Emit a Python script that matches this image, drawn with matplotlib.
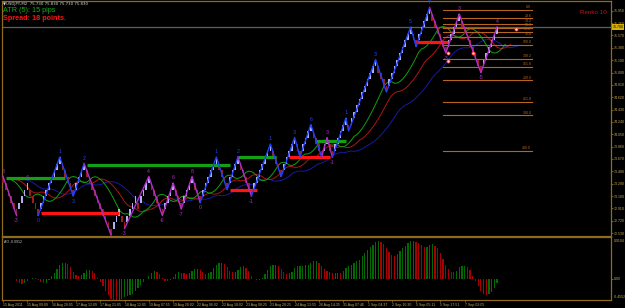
import matplotlib
matplotlib.use("Agg")
import matplotlib.pyplot as plt
import numpy as np
import pandas as pd

# renko bricks: bricks per leg, legs alternate down / up, first leg goes down
brick_runs = [6, 4, 4, 8, 5, 4, 10, 3, 2, 4, 1, 4, 5, 4, 3, 4, 3, 6, 4, 4,
              5, 7, 4, 5, 2, 4, 4, 2, 2, 5, 1, 10, 4, 9, 2, 5, 6, 5, 8, 6]
base_price = 72.50
start_level = 9
brick_size = 0.10

# zigzag paths, given as pivot numbers (pivot k = end of leg k-1, pivot 0 = start)
magenta_paths = [[0, 1], [6, 7], [9, 12, 13, 14, 15, 16, 17], [20, 21], [27, 28, 29], [36, 37, 38, 39, 40]]
blue_paths = [[3, 4, 5, 6], [17, 18, 19, 20], [21, 22, 23, 24, 25, 26, 27], [29, 30, 31, 32, 33, 34, 35, 36]]
magenta_labels = {0: "3", 1: "-3", 2: "4", 7: "-4", 9: "-3", 12: "4", 13: "-6", 14: "6", 15: "-7",
                  16: "8", 17: "0", 21: "-1", 28: "3", 29: "-1", 37: "-3", 38: "3", 39: "-5", 40: "4"}
blue_labels = {3: "0", 4: "1", 5: "3", 6: "2", 18: "1", 20: "2", 22: "1", 24: "3", 26: "6",
               30: "1", 32: "3", 34: "5", 36: "7"}

# support / resistance segments: (start brick, end brick, price)
green_levels = [(1, 23, 73.38), (31, 84, 73.58), (87, 101, 73.70), (116, 127, 73.95)]
red_levels = [(14, 43, 72.84), (84, 94, 73.20), (106, 121, 73.70), (153, 165, 75.47)]

# fibonacci grid
fib_ratios = [0.0, 23.6, 38.2, 50.0, 61.8, 76.4, 100.0, 138.2, 161.8, 200.0, 261.8, 300.0, 400.0]
fib_top, fib_bottom = 75.96, 75.42
fib_span = (163, 196)

fractal_x = [165, 165, 174, 190]
fractal_y = [75.30, 75.18, 75.30, 75.67]

date_labels = ["15 Aug 2011", "15 Aug 09:09", "16 Aug 20:05", "17 Aug 12:09", "17 Aug 21:05",
               "18 Aug 12:05", "19 Aug 07:55", "19 Aug 20:02", "22 Aug 06:02", "22 Aug 18:02",
               "23 Aug 08:25", "23 Aug 20:25", "24 Aug 13:55", "26 Aug 14:35", "31 Aug 07:46",
               "1 Sep 04:37", "2 Sep 10:30", "5 Sep 05:11", "5 Sep 17:51", "7 Sep 02:05"]
price_ticks = [75.95 - 0.19 * k for k in range(19)]

# ---- build bricks
opens, closes = [], []
prev_o = prev_c = None
for leg, n in enumerate(brick_runs):
    d = -1 if leg % 2 == 0 else 1
    for j in range(n):
        if prev_o is None:
            o = start_level
        elif j == 0:
            o = prev_o
        else:
            o = prev_c
        c = o + d
        opens.append(o)
        closes.append(c)
        prev_o, prev_c = o, c
opens = base_price + brick_size * np.array(opens)
closes = base_price + brick_size * np.array(closes)
idx = np.arange(len(opens))

piv_x = [0]
piv_y = [opens[0]]
pos = 0
for n in brick_runs:
    pos += n
    piv_x.append(pos - 1)
    piv_y.append(closes[pos - 1])

median = pd.Series((opens + closes) / 2)
jaw = median.ewm(alpha=1 / 13, adjust=False).mean()
teeth = median.ewm(alpha=1 / 8, adjust=False).mean()
lips = median.ewm(alpha=1 / 5, adjust=False).mean()
ao = median.rolling(5, min_periods=1).mean() - median.rolling(34, min_periods=1).mean()

# ---- figure
W, H = 625, 308
frame = "#8E6C1C"
txt = "#C8AA5A"
small = dict(family="Liberation Sans", fontsize=2.5)
fig = plt.figure(figsize=(W / 100, H / 100), dpi=100, facecolor="black")


def box(x0, y0, x1, y1):
    return [x0 / W, 1 - y1 / H, (x1 - x0) / W, (y1 - y0) / H]


ax = fig.add_axes(box(2, 1, 611, 236))
ao_ax = fig.add_axes(box(2, 237, 611, 300))
xlim = (-0.4, 225.2)
for a in (ax, ao_ax):
    a.set_facecolor("black")
    a.set_xlim(*xlim)
    for s in a.spines.values():
        s.set_color(frame)
        s.set_linewidth(0.9)
    a.tick_params(colors=frame, labelcolor=txt, labelsize=2.5, length=1.5, width=0.6, pad=0.6)
    a.yaxis.tick_right()

ax.set_ylim(72.485, 76.10)
ax.set_yticks(price_ticks)
ax.set_yticklabels([f"{p:.3f}" for p in price_ticks], family="Liberation Sans")
ax.set_xticks([])

# current price line
last = closes[-1]
ax.axhline(last, color="#56606C", lw=0.9, zorder=1)

# bricks
up = closes > opens
ax.bar(idx[up], brick_size, bottom=opens[up], width=0.6, color="#B0B0F0", zorder=3)
ax.bar(idx[~up], brick_size, bottom=closes[~up], width=0.6, color="#9A1F1F", zorder=3)

# alligator
ax.plot(idx + 8, jaw, color="#1818A8", lw=0.7, zorder=2)
ax.plot(idx + 5, teeth, color="#B01414", lw=0.7, zorder=2)
ax.plot(idx + 3, lips, color="#10A010", lw=0.7, zorder=2)

# levels
for x0, x1, p in green_levels:
    ax.plot([x0, x1], [p, p], color="#14A014", lw=2.3, solid_capstyle="butt", zorder=4)
for x0, x1, p in red_levels:
    ax.plot([x0, x1], [p, p], color="#FF1414", lw=2.3, solid_capstyle="butt", zorder=4)

# fibonacci
for r in fib_ratios:
    p = fib_top - (fib_top - fib_bottom) * r / 100
    ax.plot(fib_span, [p, p], color="#B5651D", lw=0.8, zorder=2)
    ax.text(fib_span[1] - 0.3, p + 0.012, f"{r:.1f}", color="#B5651D", fontsize=2.6,
            family="Liberation Sans", ha="right", va="bottom", zorder=2)

# zigzags
for paths, col in ((magenta_paths, "#B02CC8"), (blue_paths, "#2040FF")):
    for path in paths:
        ax.plot([piv_x[k] for k in path], [piv_y[k] for k in path], color=col, lw=1.0, zorder=5)
for labels, col in ((magenta_labels, "#B02CC8"), (blue_labels, "#2040FF")):
    for k, t in labels.items():
        high = k % 2 == 0
        ax.text(piv_x[k], piv_y[k] + (0.04 if high else -0.04), t, color=col, fontsize=3.8,
                family="Liberation Sans", ha="center", va="bottom" if high else "top", zorder=6)

ax.scatter(fractal_x, fractal_y, s=5, facecolor="#FFE0E0", edgecolor="#FF3030", lw=0.6, zorder=6)

# price box
ax.text(1.003, last, f"{last:.3f}", transform=ax.get_yaxis_transform(), color="black",
        va="center", ha="left", bbox=dict(boxstyle="square,pad=0.15", fc="#D8B000", ec="none"),
        **small)

# texts
fig.text(3 / W, 1 - 4 / H, "\u25bcUSDJPY,M2  75.730 75.830 75.730 75.830", color="#D8D8D8",
         fontsize=2.8, va="center", ha="left")
fig.text(3 / W, 1 - 10 / H, "ATR (5): 15 pips", color="#10B010", fontsize=5.2,
         family="Liberation Sans", va="center", ha="left")
fig.text(3 / W, 1 - 18 / H, "Spread: 18 points.", color="#FF1010", fontsize=5.2,
         family="Liberation Sans", weight="bold", va="center", ha="left")
fig.text(607 / W, 1 - 12 / H, "Renko 10", color="#C81010", fontsize=4.5,
         family="Liberation Sans", va="center", ha="right")

# awesome oscillator
ao_vals = ao.to_numpy()
rising = np.r_[True, ao_vals[1:] >= ao_vals[:-1]]
ao_ax.bar(idx[rising], ao_vals[rising], width=0.45, color="#006A00")
ao_ax.bar(idx[~rising], ao_vals[~rising], width=0.45, color="#A80000")
top = ao_vals.max() * 1.1
ao_ax.set_ylim(-top * 0.5, top)
ao_ax.set_yticks([0])
ao_ax.set_yticklabels(["0.00"], family="Liberation Sans")
ao_ax.text(1.004, 0.97, f"{top:.4f}", transform=ao_ax.transAxes, color=txt, va="top", **small)
ao_ax.text(1.004, 0.02, f"{-top * 0.5:.4f}", transform=ao_ax.transAxes, color=txt, va="bottom", **small)
ao_ax.text(0.003, 0.95, f"AO {ao_vals[-1]:.4f}", transform=ao_ax.transAxes, color="#C8C8C8",
           va="top", **small)

date_pos = [9 * k for k in range(len(date_labels))]
ao_ax.set_xticks(date_pos)
ao_ax.set_xticklabels(date_labels, family="Liberation Sans")
for lab in ao_ax.get_xticklabels():
    lab.set_ha("left")

fig.savefig("out.png", dpi=100, facecolor="black")
